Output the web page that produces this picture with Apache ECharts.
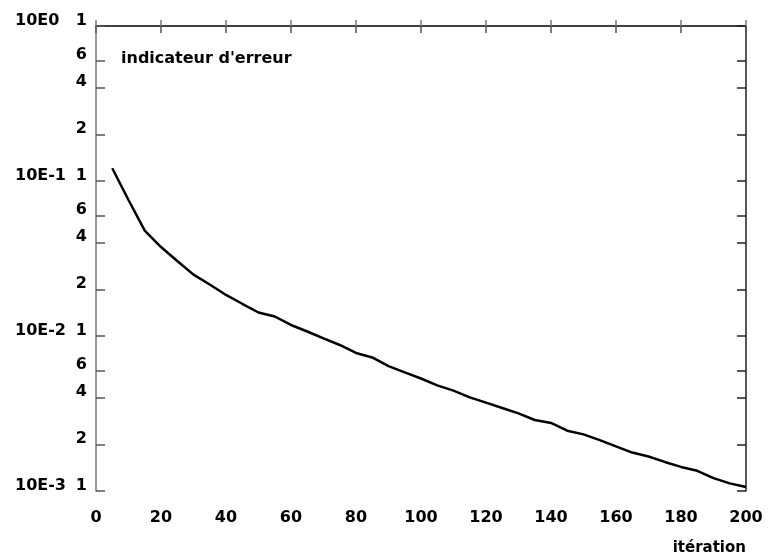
<!DOCTYPE html>
<html>
<head>
<meta charset="utf-8">
<script src="https://cdn.jsdelivr.net/npm/echarts@6/dist/echarts.min.js"></script>
<style>
  html, body { margin: 0; padding: 0; background: #fff; }
  #chart { width: 769px; height: 560px; }
</style>
</head>
<body>
<div id="chart"></div>
<script>
// iterations and error indicator values
const iterations = [5, 10, 15, 20, 25, 30, 35, 40, 45, 50, 55, 60, 65, 70, 75, 80, 85, 90, 95, 100,
  105, 110, 115, 120, 125, 130, 135, 140, 145, 150, 155, 160, 165, 170, 175, 180, 185, 190, 195, 200];
const errorValues = [0.1208, 0.0754, 0.0478, 0.0375, 0.0305, 0.0249, 0.0215, 0.0184, 0.01614, 0.01418,
  0.01336, 0.01178, 0.01069, 0.00966, 0.00875, 0.00777, 0.00727, 0.00640, 0.00582, 0.00532,
  0.00480, 0.00444, 0.00402, 0.00372, 0.00343, 0.00317, 0.00287, 0.00275, 0.00245, 0.00232,
  0.00213, 0.00194, 0.00177, 0.00167, 0.00154, 0.00143, 0.00135, 0.00121, 0.00112, 0.00106];

// tick marks on the log axis: mantissa and decade
const tickMantissas = [1, 2, 4, 6];
const decades = [0, -1, -2, -3];

const FONT = 'DejaVu Sans';
const log10 = v => Math.log10(v);

// positions of the minor ticks in log10 space
let tickLogs = [];
decades.forEach(d => {
  tickMantissas.forEach(m => {
    const v = log10(m) + d;
    if (v <= 0.0001 && v >= -3.0001) tickLogs.push(v);
  });
});

const mantissaOf = v => {
  const d = Math.floor(v + 1e-6);
  return String(Math.round(Math.pow(10, v - d)));
};

const chart = echarts.init(document.getElementById('chart'));

chart.setOption({
  animation: false,
  backgroundColor: '#fff',
  title: {
    text: "indicateur d'erreur",
    left: 116,
    top: 46,
    textStyle: { fontFamily: FONT, fontSize: 16, fontWeight: 'bold', color: '#000' }
  },
  graphic: [{
    type: 'text',
    right: 23,
    top: 541,
    style: { text: 'itération', font: 'bold 15px "DejaVu Sans"', fill: '#000' }
  }],
  grid: { left: 96, right: 23, top: 26, bottom: 69, containLabel: false },
  xAxis: [{
    type: 'value',
    position: 'bottom',
    min: 0, max: 200, interval: 20,
    axisLine: { lineStyle: { color: '#777', width: 1.5 } },
    axisTick: { inside: true, length: 6, lineStyle: { color: '#777', width: 1.5 } },
    axisLabel: { margin: 19, fontFamily: FONT, fontSize: 16, fontWeight: 'bold', color: '#000' },
    splitLine: { show: false }
  }, {
    type: 'value',
    position: 'top',
    min: 0, max: 200, interval: 20,
    axisLine: { lineStyle: { color: '#222', width: 1.5 } },
    axisTick: { inside: true, length: 7, lineStyle: { color: '#555', width: 1.5 } },
    axisLabel: { show: false },
    splitLine: { show: false }
  }],
  yAxis: [{
    type: 'value',
    position: 'left',
    min: -3, max: 0,
    axisLine: { show: true, lineStyle: { color: '#777', width: 1.5 } },
    axisTick: { show: true, inside: true, length: 9, customValues: tickLogs, lineStyle: { color: '#555', width: 1.5 } },
    axisLabel: {
      customValues: tickLogs,
      margin: 9,
      verticalAlign: 'bottom',
      lineHeight: 11,
      fontFamily: FONT, fontSize: 16, fontWeight: 'bold', color: '#000',
      formatter: v => mantissaOf(v)
    },
    splitLine: { show: false }
  }, {
    type: 'value',
    position: 'left',
    min: -3, max: 0,
    axisLine: { show: false },
    axisTick: { show: false },
    axisLabel: {
      customValues: decades,
      margin: 81,
      align: 'left',
      verticalAlign: 'bottom',
      lineHeight: 11,
      fontFamily: FONT, fontSize: 16, fontWeight: 'bold', color: '#000',
      formatter: v => '10E' + Math.round(v)
    },
    splitLine: { show: false }
  }, {
    type: 'value',
    position: 'right',
    min: -3, max: 0,
    axisLine: { show: true, lineStyle: { color: '#222', width: 1.5 } },
    axisTick: { show: true, inside: true, length: 9, customValues: tickLogs, lineStyle: { color: '#222', width: 1.5 } },
    axisLabel: { show: false },
    splitLine: { show: false }
  }],
  series: [{
    type: 'line',
    xAxisIndex: 0,
    yAxisIndex: 0,
    showSymbol: false,
    lineStyle: { color: '#000', width: 2.5 },
    data: iterations.map((it, i) => [it, log10(errorValues[i])])
  }]
});
</script>
</body>
</html>
